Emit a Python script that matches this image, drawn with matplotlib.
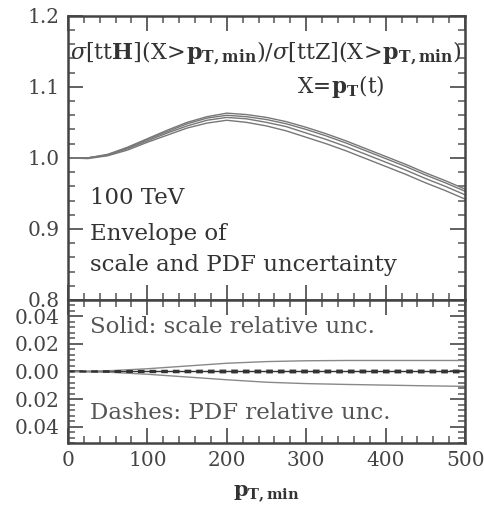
import numpy as np
import matplotlib.pyplot as plt
from matplotlib.ticker import MultipleLocator, FixedLocator

plt.rcParams['font.family'] = 'DejaVu Serif'
plt.rcParams['mathtext.fontset'] = 'dejavuserif'

# ratio envelope, pT,min in GeV
ptmin = [0, 25, 50, 75, 100, 125, 150, 175, 200, 225, 250, 275, 300,
         325, 350, 375, 400, 425, 450, 475, 500]
ratio_1 = [1.000, 1.000, 1.005, 1.015, 1.027, 1.039, 1.050, 1.058, 1.063, 1.061, 1.057,
           1.051, 1.043, 1.034, 1.024, 1.013, 1.002, 0.991, 0.979, 0.968, 0.956]
ratio_2 = [1.000, 1.000, 1.004, 1.014, 1.026, 1.037, 1.048, 1.056, 1.060, 1.058, 1.054,
           1.048, 1.040, 1.031, 1.021, 1.010, 0.999, 0.988, 0.976, 0.965, 0.953]
ratio_3 = [1.000, 1.000, 1.004, 1.013, 1.024, 1.035, 1.045, 1.053, 1.057, 1.055, 1.050,
           1.044, 1.035, 1.026, 1.016, 1.005, 0.994, 0.983, 0.971, 0.960, 0.948]
ratio_4 = [1.000, 0.999, 1.003, 1.011, 1.022, 1.032, 1.042, 1.049, 1.053, 1.050, 1.045,
           1.038, 1.029, 1.020, 1.010, 0.999, 0.988, 0.977, 0.965, 0.954, 0.942]

# relative uncertainties
pt_unc = [0, 50, 100, 150, 200, 250, 300, 350, 400, 450, 500]
scale_up = [0.0, 0.0005, 0.002, 0.004, 0.006, 0.0072, 0.0078, 0.008, 0.008, 0.008, 0.008]
scale_dn = [0.0, -0.0005, -0.002, -0.004, -0.006, -0.0078, -0.0088, -0.0094, -0.0099, -0.0104, -0.0108]
pdf_up = [0.0, 0.0004, 0.0006, 0.0007, 0.0008, 0.0008, 0.0008, 0.0008, 0.0008, 0.0008, 0.0008]
pdf_dn = [0.0, -0.0004, -0.0006, -0.0007, -0.0008, -0.0008, -0.0008, -0.0008, -0.0008, -0.0008, -0.0008]

fig = plt.figure(figsize=(4.85, 5.11), dpi=100)
ax1 = fig.add_axes([0.140, 0.413, 0.819, 0.556])
ax2 = fig.add_axes([0.140, 0.133, 0.819, 0.280])

for r in [ratio_1, ratio_2, ratio_3, ratio_4]:
    ax1.plot(ptmin, r, color='#777777', lw=1.0)

ax2.axhline(0, color='#333333', lw=1.0)
ax2.plot(pt_unc, scale_up, color='#888888', lw=1.0)
ax2.plot(pt_unc, scale_dn, color='#888888', lw=1.0)
ax2.plot(pt_unc, pdf_up, color='#333333', lw=1.2, ls=(0, (4, 3)))
ax2.plot(pt_unc, pdf_dn, color='#333333', lw=1.2, ls=(0, (4, 3)))

ax1.set_xlim(0, 500)
ax1.set_ylim(0.8, 1.2)
ax2.set_xlim(0, 500)
ax2.set_ylim(-0.052, 0.052)

for ax in (ax1, ax2):
    ax.xaxis.set_major_locator(MultipleLocator(100))
    ax.xaxis.set_minor_locator(MultipleLocator(20))
    ax.tick_params(which='both', direction='in', top=True, right=True,
                   colors='#555555', labelcolor='#444444', labelsize=14.5)
    ax.tick_params(which='major', length=11, width=1.3, pad=6)
    ax.tick_params(which='minor', length=5, width=1.1)
    for s in ax.spines.values():
        s.set_linewidth(1.8)
        s.set_color('#444444')

ax1.yaxis.set_major_locator(MultipleLocator(0.1))
ax1.yaxis.set_minor_locator(MultipleLocator(0.02))
ax1.yaxis.set_major_formatter(plt.FuncFormatter(lambda v, p: f'{v:.1f}'))
ax1.tick_params(axis='x', labelbottom=False)

ax2.yaxis.set_major_locator(FixedLocator([-0.04, -0.02, 0.0, 0.02, 0.04]))
ax2.yaxis.set_minor_locator(MultipleLocator(0.004))
ax2.yaxis.set_major_formatter(plt.FuncFormatter(lambda v, p: f'{abs(v):.2f}'))

ax1.text(3, 1.147, r'$\sigma[\mathrm{tt}\mathbf{H}](\mathrm{X}\!>\!\mathbf{p}_{\mathbf{T,min}})/\sigma[\mathrm{ttZ}](\mathrm{X}\!>\!\mathbf{p}_{\mathbf{T,min}})$',
         fontsize=16, color='#333333', ha='left', va='center')
ax1.text(344, 1.100, r'$\mathrm{X}\!=\!\mathbf{p}_{\mathbf{T}}(\mathrm{t})$',
         fontsize=15.5, color='#333333', ha='center', va='center')
ax1.text(28, 0.944, '100 TeV', fontsize=16.5, color='#333333', va='center')
ax1.text(28, 0.893, 'Envelope of', fontsize=16.5, color='#333333', va='center')
ax1.text(28, 0.849, 'scale and PDF uncertainty', fontsize=16.5, color='#333333', va='center')

ax2.text(28, 0.032, 'Solid: scale relative unc.', fontsize=16.5, color='#555555', va='center')
ax2.text(28, -0.030, 'Dashes: PDF relative unc.', fontsize=16.5, color='#555555', va='center')

ax2.set_xlabel(r'$\mathbf{p}_{\mathbf{T,min}}$', fontsize=15, color='#333333', labelpad=10)

fig.savefig('out.png', dpi=100)
